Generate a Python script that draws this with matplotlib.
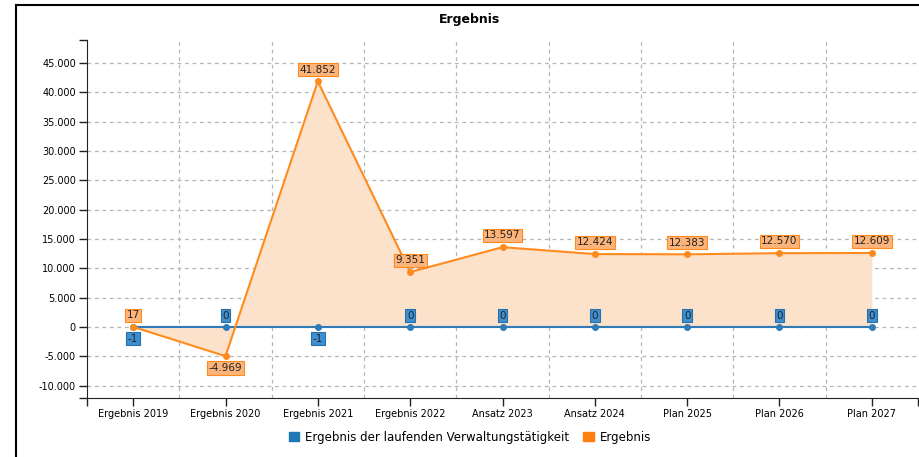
import numpy as np
import matplotlib.pyplot as plt
from matplotlib.lines import Line2D
from matplotlib.patches import Patch

categories = ['Ergebnis 2019', 'Ergebnis 2020', 'Ergebnis 2021', 'Ergebnis 2022', 'Ansatz 2023',
              'Ansatz 2024', 'Plan 2025', 'Plan 2026', 'Plan 2027']
laufend = [-1, 0, -1, 0, 0, 0, 0, 0, 0]
ergebnis = [17, -4969, 41852, 9351, 13597, 12424, 12383, 12570, 12609]
yticks = [-10000, -5000, 0, 5000, 10000, 15000, 20000, 25000, 30000, 35000, 40000, 45000]

BLUE = '#2f7bb8'
ORANGE = '#ff8a1e'
FILL = '#fde2cb'


def fmt(v):
    # German thousands separator
    return f'{v:,}'.replace(',', '.')


W, H = 919, 457
fig = plt.figure(figsize=(W / 100, H / 100), dpi=100)
ax = fig.add_axes([87 / W, (H - 398) / H, (918 - 87) / W, (398 - 40) / H])

x = np.arange(len(categories))

ax.fill_between(x, ergebnis, 0, color=FILL, lw=0, zorder=1)
ax.plot(x, laufend, color=BLUE, lw=1.5, marker='o', ms=4, zorder=3)
ax.plot(x, ergebnis, color=ORANGE, lw=1.5, marker='o', ms=4, zorder=4)

# value labels
for xi, v in zip(x, ergebnis):
    off = 8.5 if v >= 0 else -8.5
    ax.annotate(fmt(v), (xi, v), xytext=(0, off), textcoords='offset points',
                ha='center', va='center', fontsize=7.5, color='#222222', zorder=6,
                bbox=dict(boxstyle='square,pad=0.15', fc='#fdb47a', ec=ORANGE, lw=0.8))
for xi, v in zip(x, laufend):
    off = 8 if v >= 0 else -8.5
    ax.annotate(fmt(v), (xi, v), xytext=(0, off), textcoords='offset points',
                ha='center', va='center', fontsize=7.5, color='#222222', zorder=5,
                bbox=dict(boxstyle='square,pad=0.15', fc='#3d8fd1', ec='#2a6fa8', lw=0.8))

ax.set_xlim(-0.5, len(categories) - 0.5)
ax.set_ylim(-12100, 48900)
ax.set_xticks(x)
ax.set_xticklabels(categories, fontsize=7)
ax.set_yticks(yticks)
ax.set_yticklabels([fmt(v) for v in yticks], fontsize=7)
ax.set_xticks([-0.5, len(categories) - 0.5], minor=True)
ax.set_yticks(ax.get_ylim(), minor=True)
ax.tick_params(axis='both', which='both', length=6, width=1, color='#222222', pad=2)

ax.grid(axis='y', which='major', ls=(0, (3, 3)), color='#b5b5b5', lw=0.9)
for b in x[:-1] + 0.5:
    ax.axvline(b, ls=(0, (3, 3)), color='#b5b5b5', lw=0.9, zorder=0)
ax.set_axisbelow(True)

for s in ['top', 'right']:
    ax.spines[s].set_visible(False)
ax.spines['left'].set_color('#222222')
ax.spines['bottom'].set_color('#222222')

fig.text(470 / W, 1 - 19 / H, 'Ergebnis', ha='center', va='center', fontsize=9, fontweight='bold')

handles = [Patch(color='#1f77b4', label='Ergebnis der laufenden Verwaltungstätigkeit'),
           Patch(color='#ff7f0e', label='Ergebnis')]
fig.legend(handles=handles, loc='center', bbox_to_anchor=(470 / W, 1 - 437 / H), ncol=2,
           frameon=False, fontsize=8.5, handlelength=0.9, handleheight=0.9,
           handletextpad=0.5, columnspacing=1.2)

# outer frame
fig.add_artist(Line2D([16 / W, 16 / W], [0, 1 - 5 / H], color='black', lw=1.5))
fig.add_artist(Line2D([16 / W, 1], [1 - 5 / H, 1 - 5 / H], color='black', lw=1.5))

fig.savefig('out.png', dpi=100)
